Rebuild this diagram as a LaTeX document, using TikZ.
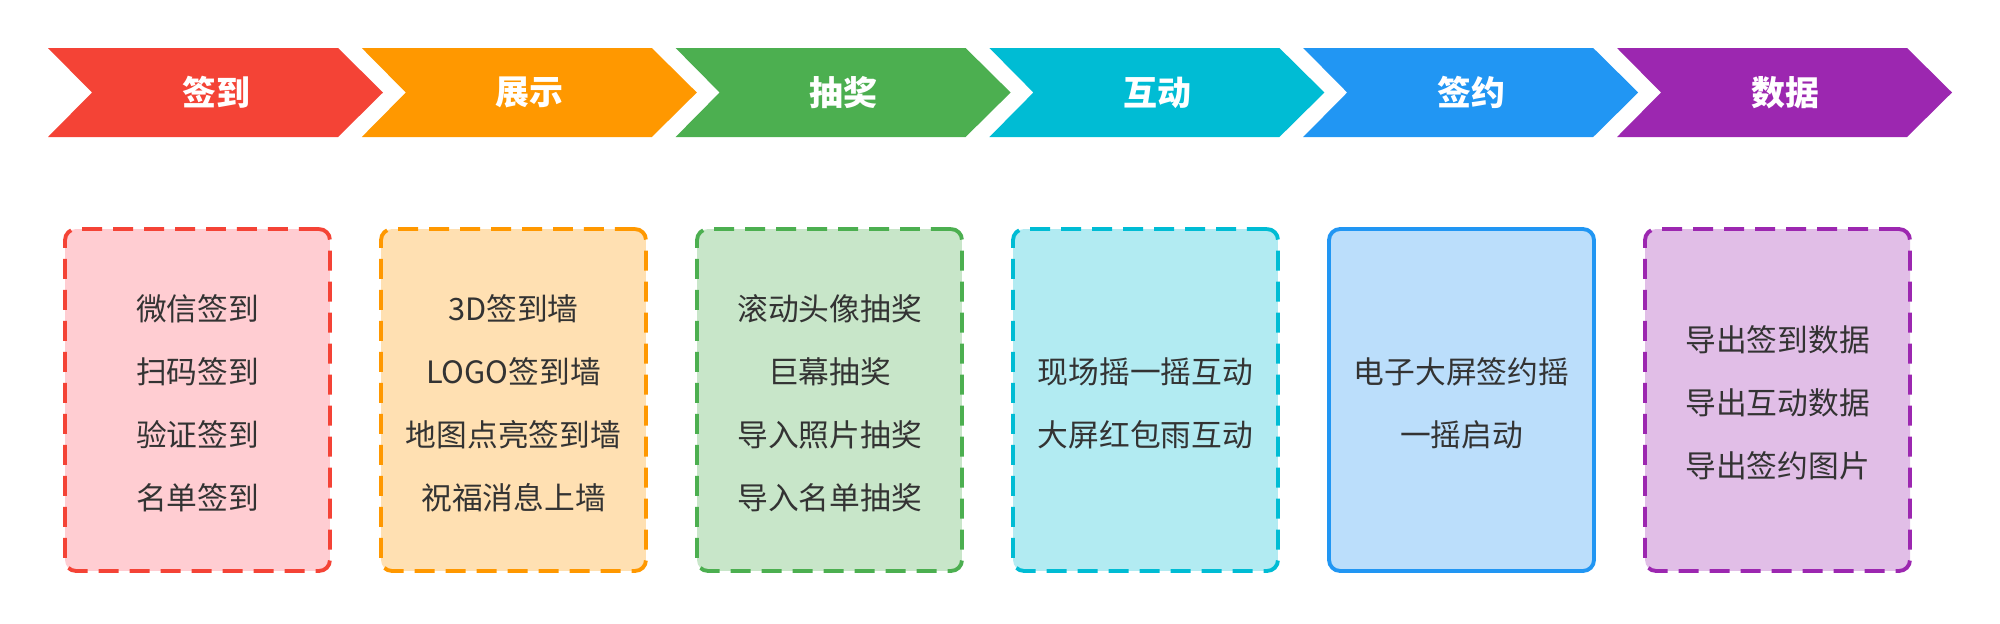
\documentclass[tikz,border=0pt]{standalone}
\usepackage{fontspec}
\setmainfont{Noto Sans CJK SC}
\usetikzlibrary{positioning}

\definecolor{qdRed}{HTML}{F44336}
\definecolor{qdOrange}{HTML}{FF9800}
\definecolor{qdGreen}{HTML}{4CAF50}
\definecolor{qdCyan}{HTML}{00BCD4}
\definecolor{qdBlue}{HTML}{2196F3}
\definecolor{qdPurple}{HTML}{9C27B0}
\definecolor{lgRed}{HTML}{FFCDD2}
\definecolor{lgOrange}{HTML}{FFE0B2}
\definecolor{lgGreen}{HTML}{C8E6C9}
\definecolor{lgCyan}{HTML}{B2EBF2}
\definecolor{lgBlue}{HTML}{BBDEFB}
\definecolor{lgPurple}{HTML}{E1BEE7}
\definecolor{txtgray}{HTML}{333333}

\begin{document}
\begin{tikzpicture}[
        x=0.02cm, y=-0.02cm,
        line join=miter,
        headtxt/.style={text=white, font=\fontsize{19.3}{23}\selectfont\bfseries},
        card/.style={rounded corners=0.22cm, line width=2.2pt,
            minimum width=5.3cm, minimum height=6.84cm, align=center,
            text=txtgray, font=\fontsize{17.5}{35.9}\selectfont},
        dashcard/.style={dash pattern=on 0.4cm off 0.22cm}
    ]
        \useasboundingbox (0,0) rectangle (2000,623);

        % Pfeile oben
        \foreach \i/\c/\t in {0/Red/签到,1/Orange/展示,2/Green/抽奖,3/Cyan/互动,4/Blue/签约,5/Purple/数据}{
            \pgfmathsetmacro{\L}{48+313.8*\i}
            \fill[qd\c] (\L,48) -- ++(290,0) -- ++(45,44.5) -- ++(-45,44.5)
                -- ++(-290,0) -- ++(44,-44.5) -- cycle;
            \node[headtxt] (head\i) at (\L+168,92.5) {\t};
        }

        % Karten unten
        \foreach \i/\c/\s/\t in {
            0/Red/dashcard/{微信签到\\扫码签到\\验证签到\\名单签到},
            1/Orange/dashcard/{3D签到墙\\LOGO签到墙\\地图点亮签到墙\\祝福消息上墙},
            2/Green/dashcard/{滚动头像抽奖\\巨幕抽奖\\导入照片抽奖\\导入名单抽奖},
            3/Cyan/dashcard/{现场摇一摇互动\\大屏红包雨互动},
            4/Blue/solid/{电子大屏签约摇\\一摇启动},
            5/Purple/dashcard/{导出签到数据\\导出互动数据\\导出签约图片}}{
            \pgfmathsetmacro{\B}{63+316*\i}
            \node[card, \s, draw=qd\c, fill=lg\c] (list\i) at (\B+134.5,400) {};
            \node[card, draw=none, fill=none, minimum height=0pt] (txt\i)
                at ([yshift=-3*0.02cm]list\i.center) {\t};
        }
    \end{tikzpicture}
\end{document}
